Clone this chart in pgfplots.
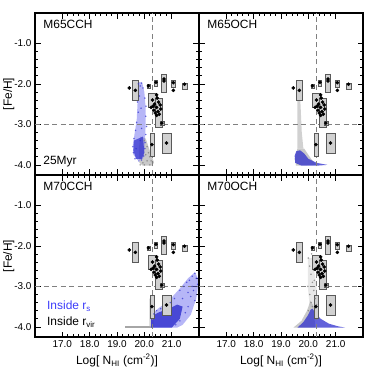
\documentclass[border=0pt]{standalone}
\usepackage{fontspec}
\setmainfont{Liberation Sans}
\usepackage{pgfplots}
\pgfplotsset{compat=1.18}
\definecolor{simblue}{RGB}{45,45,205}
\definecolor{lightblue}{RGB}{110,110,240}
\definecolor{txtblue}{RGB}{60,60,250}

\pgfplotsset{
  panel/.style={
    scale only axis, width=164bp, height=162bp,
    xmin=16, xmax=22, ymin=-4.25, ymax=-0.25,
    xtick={17,18,19,20,21}, ytick={-4,-3,-2,-1},
    minor x tick num=4, minor y tick num=4,
    tick align=inside,
    major tick length=5.5bp, minor tick length=3bp,
    axis line style={line width=1.1pt},
    every tick/.style={black, line width=0.7pt},
    tick label style={font=\fontsize{10}{12}\selectfont},
    label style={font=\fontsize{12}{14}\selectfont},
    ylabel style={at={(axis description cs:-0.195,0.5)}, anchor=north, inner sep=0pt},
    /pgf/number format/fixed, /pgf/number format/fixed zerofill,
    /pgf/number format/precision=1, /pgf/number format/assume math mode=true,
    clip=true,
  },
  obsbox/.style={fill=black!18, draw=black!65, line width=0.6pt},
  ref/.style={gray, line width=0.8pt, dash pattern=on 5bp off 3.5bp},
}

% observed DLA sample, same in every panel
\newcommand{\obsdata}{%
  \addplot[ref] coordinates {(20.3,-4.25) (20.3,-0.25)};
  \addplot[ref] coordinates {(16,-3) (22,-3)};
  \addplot[obsbox] coordinates {(19.57,-2.40) (19.79,-2.40) (19.79,-1.91) (19.57,-1.91)} -- cycle;
  \addplot[obsbox] coordinates {(20.10,-2.10) (20.22,-2.10) (20.22,-2.00) (20.10,-2.00)} -- cycle;
  \addplot[obsbox] coordinates {(20.35,-2.05) (20.49,-2.05) (20.49,-1.92) (20.35,-1.92)} -- cycle;
  \addplot[obsbox] coordinates {(20.62,-2.20) (20.81,-2.20) (20.81,-1.76) (20.62,-1.76)} -- cycle;
  \addplot[obsbox] coordinates {(20.98,-2.08) (21.15,-2.08) (21.15,-1.92) (20.98,-1.92)} -- cycle;
  \addplot[obsbox] coordinates {(21.38,-2.14) (21.56,-2.14) (21.56,-1.98) (21.38,-1.98)} -- cycle;
  \addplot[obsbox] coordinates {(20.15,-2.57) (20.44,-2.57) (20.44,-2.24) (20.15,-2.24)} -- cycle;
  \addplot[obsbox] coordinates {(20.41,-3.06) (20.67,-3.06) (20.67,-2.36) (20.41,-2.36)} -- cycle;
  \addplot[obsbox] coordinates {(20.58,-3.03) (20.72,-3.03) (20.72,-2.92) (20.58,-2.92)} -- cycle;
  \addplot[obsbox] coordinates {(20.22,-3.78) (20.36,-3.78) (20.36,-3.22) (20.22,-3.22)} -- cycle;
  \addplot[obsbox] coordinates {(20.67,-3.71) (20.99,-3.71) (20.99,-3.22) (20.67,-3.22)} -- cycle;
  \addplot[only marks, mark=*, mark size=1.6bp, black] coordinates {
    (19.45,-2.10) (19.67,-2.16) (20.15,-2.05) (20.43,-1.96) (20.72,-1.88) (20.72,-1.93)
    (21.06,-1.97) (21.06,-2.16) (21.47,-2.01)
    (20.45,-2.27) (20.47,-2.35) (20.30,-2.40) (20.52,-2.45) (20.38,-2.50) (20.58,-2.52)
    (20.25,-2.58) (20.45,-2.58) (20.60,-2.62) (20.35,-2.65) (20.50,-2.68) (20.40,-2.72)
    (20.55,-2.75) (20.45,-2.78) (20.32,-2.55) (20.64,-2.97)
    (20.28,-3.50) (20.81,-3.46)};
}

\begin{document}
\begin{tikzpicture}
\path[use as bounding box] (0,0) rectangle (374bp,-374bp);

% ---- M65CCH
\begin{axis}[panel, at={(35bp,-13bp)}, anchor=north west,
  xticklabels={}, ylabel={[Fe/H]}]
\addplot[fill=gray!60, fill opacity=0.7, draw=none] coordinates {
  (19.85,-3.3) (20.05,-3.35) (20.15,-3.55) (20.25,-3.75) (20.35,-3.93) (20.3,-4.02)
  (19.95,-4.02) (19.82,-3.95) (19.8,-3.6)} -- cycle;
\addplot[only marks, mark=*, mark size=0.6bp, gray, opacity=0.6] coordinates {
  (20.0,-3.4) (20.1,-3.55) (20.15,-3.7) (20.2,-3.8) (20.25,-3.9) (20.3,-3.95)
  (20.05,-3.75) (20.1,-3.9) (19.95,-3.95) (20.0,-4.0) (20.2,-4.0) (19.85,-4.0)};
\addplot[fill=lightblue, fill opacity=0.5, draw=none] coordinates {
  (19.80,-1.95) (19.92,-1.97) (20.0,-2.2) (20.05,-2.6) (20.05,-3.0) (20.02,-3.4)
  (20.0,-3.7) (19.95,-3.85) (19.75,-3.88) (19.6,-3.75) (19.58,-3.5) (19.65,-3.2)
  (19.72,-2.9) (19.75,-2.5) (19.77,-2.2)} -- cycle;
\addplot[fill=simblue, fill opacity=0.7, draw=none] coordinates {
  (19.62,-3.4) (19.95,-3.3) (20.0,-3.7) (19.9,-3.86) (19.7,-3.85) (19.6,-3.65)} -- cycle;
\addplot[only marks, mark=*, mark size=0.6bp, simblue, opacity=0.5] coordinates {
  (19.78,-2.0) (19.85,-2.05) (19.9,-1.98) (19.95,-2.1) (19.82,-2.3) (20.02,-2.35)
  (19.75,-2.45) (20.06,-2.55) (19.78,-2.7) (20.05,-2.8) (19.72,-2.95) (20.08,-3.05)
  (19.68,-3.15) (20.05,-3.25) (19.62,-3.35) (20.03,-3.45) (19.58,-3.55) (20.02,-3.6)
  (19.6,-3.7) (19.98,-3.78) (19.66,-3.85) (19.8,-3.9) (19.9,-3.88) (19.7,-3.6)
  (19.85,-3.4) (19.9,-3.1) (19.88,-2.6)};
\obsdata
\node[anchor=north west, inner sep=0, font=\fontsize{12}{14}\selectfont] at (rel axis cs:0.05,0.957) {M65CCH};
\node[anchor=base west, inner sep=0, font=\fontsize{12}{14}\selectfont] at (rel axis cs:0.05,0.062) {25Myr};
\end{axis}

% ---- M65OCH
\begin{axis}[panel, at={(199bp,-13bp)}, anchor=north west,
  xticklabels={}, yticklabels={}]
\addplot[fill=gray!60, fill opacity=0.6, draw=none] coordinates {
  (19.58,-2.05) (19.68,-2.05) (19.72,-2.6) (19.76,-3.2) (19.82,-3.6) (19.6,-3.6)
  (19.6,-3.1) (19.6,-2.5)} -- cycle;
\addplot[fill=gray!60, fill opacity=0.7, draw=none] coordinates {
  (19.5,-3.85) (19.6,-3.6) (19.85,-3.6) (20.1,-3.85) (20.3,-4.0) (19.55,-4.02)} -- cycle;
\addplot[fill=simblue, fill opacity=0.75, draw=none] coordinates {
  (19.5,-3.78) (19.56,-3.66) (19.7,-3.64) (19.85,-3.72) (20.0,-3.85) (20.3,-3.95)
  (20.7,-4.0) (20.3,-4.02) (19.75,-4.02) (19.52,-3.95)} -- cycle;
\obsdata
\node[anchor=north west, inner sep=0, font=\fontsize{12}{14}\selectfont] at (rel axis cs:0.05,0.957) {M65OCH};
\end{axis}

% ---- M70CCH
\begin{axis}[panel, at={(35bp,-175bp)}, anchor=north west,
  ylabel={[Fe/H]}, xlabel={Log[ N\textsubscript{HI} (cm\textsuperscript{-2})]}]
\addplot[gray!70, line width=1.5pt] coordinates {(19.3,-4.0) (20.3,-4.0)};
\addplot[fill=gray!60, fill opacity=0.6, draw=none] coordinates {
  (20.18,-3.3) (20.32,-3.3) (20.35,-4.0) (20.18,-4.0)} -- cycle;
\addplot[fill=lightblue, fill opacity=0.5, draw=none] coordinates {
  (20.25,-4.02) (20.25,-3.7) (20.5,-3.55) (20.9,-3.35) (21.3,-3.05) (21.6,-2.8)
  (21.85,-2.65) (22.0,-2.85) (21.9,-3.3) (21.7,-3.7) (21.4,-3.95) (21.2,-4.02)} -- cycle;
\addplot[fill=simblue, fill opacity=0.8, draw=none] coordinates {
  (20.25,-4.02) (20.25,-3.75) (20.5,-3.65) (20.9,-3.55) (21.2,-3.45) (21.4,-3.5)
  (21.3,-3.8) (21.0,-4.02)} -- cycle;
\addplot[only marks, mark=*, mark size=0.6bp, simblue, opacity=0.5] coordinates {
  (21.3,-3.1) (21.45,-3.0) (21.55,-2.9) (21.65,-2.85) (21.75,-2.75) (21.85,-2.68)
  (21.9,-2.8) (21.95,-2.95) (21.8,-3.1) (21.7,-3.25) (21.85,-3.35) (21.6,-3.5)
  (21.5,-3.65) (21.3,-3.85) (21.15,-3.95) (21.1,-3.3) (20.95,-3.4) (20.8,-3.45)
  (20.6,-3.55) (20.45,-3.6) (20.35,-3.68) (21.4,-3.3) (21.6,-3.15) (21.75,-3.0)};
\obsdata
\node[anchor=north west, inner sep=0, font=\fontsize{12}{14}\selectfont] at (rel axis cs:0.05,0.957) {M70CCH};
\node[anchor=base west, inner sep=0, font=\fontsize{12}{14}\selectfont, text=txtblue] at (rel axis cs:0.073,0.167) {Inside r\textsubscript{s}};
\node[anchor=base west, inner sep=0, font=\fontsize{12}{14}\selectfont] at (rel axis cs:0.073,0.068) {Inside r\textsubscript{vir}};
\end{axis}

% ---- M70OCH
\begin{axis}[panel, at={(199bp,-175bp)}, anchor=north west,
  yticklabels={}, xlabel={Log[ N\textsubscript{HI} (cm\textsuperscript{-2})]}]
\addplot[fill=gray!60, fill opacity=0.3, draw=none] coordinates {
  (19.98,-2.3) (20.15,-2.3) (20.3,-3.0) (20.35,-3.5) (20.05,-3.5) (19.98,-3.0)} -- cycle;
\addplot[only marks, mark=*, mark size=0.6bp, gray, opacity=0.6] coordinates {
  (20.0,-2.3) (20.05,-2.5) (20.1,-2.7) (20.15,-2.9) (20.2,-3.1) (20.05,-3.2)
  (20.25,-3.3) (20.1,-3.4) (20.3,-3.45) (19.98,-3.0) (20.12,-2.2) (20.2,-2.6)
  (20.22,-2.85) (20.15,-3.5) (20.0,-3.6)};
\addplot[fill=gray!60, fill opacity=0.7, draw=none] coordinates {
  (19.45,-4.02) (19.75,-3.85) (19.95,-3.6) (20.08,-3.35) (20.2,-3.5) (20.25,-4.02)} -- cycle;
\addplot[fill=simblue, fill opacity=0.75, draw=none] coordinates {
  (19.6,-4.02) (19.82,-3.88) (19.98,-3.72) (20.08,-3.58) (20.15,-3.55) (20.25,-3.65)
  (20.45,-3.8) (20.75,-3.92) (21.05,-3.98) (21.35,-4.02)} -- cycle;
\obsdata
\node[anchor=north west, inner sep=0, font=\fontsize{12}{14}\selectfont] at (rel axis cs:0.05,0.957) {M70OCH};
\end{axis}
\end{tikzpicture}
\end{document}
